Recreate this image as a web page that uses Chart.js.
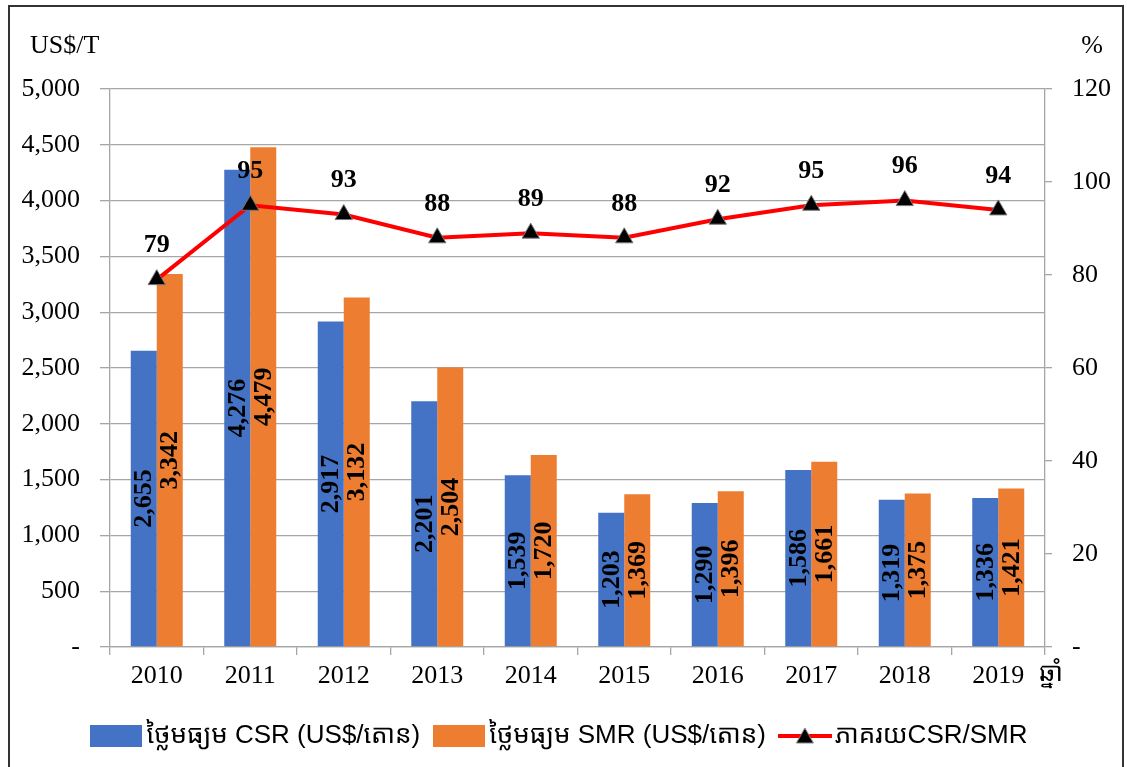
<!DOCTYPE html>
<html>
<head>
<meta charset="utf-8">
<script src="https://cdn.jsdelivr.net/npm/chart.js@4"></script>
<style>
  html, body { margin: 0; padding: 0; background: #fff; overflow: hidden; }
  #wrap { position: relative; width: 1127px; height: 767px; }
  #frame { position: absolute; left: 8px; top: 5px; width: 1112px; height: 900px;
           border: 2px solid #333; border-bottom: none; pointer-events: none; }
</style>
</head>
<body>
<div id="wrap">
  <canvas id="priceChart" width="1127" height="767"></canvas>
  <div id="frame"></div>
</div>
<script>
const years = ['2010', '2011', '2012', '2013', '2014', '2015', '2016', '2017', '2018', '2019'];
const csrPrice = [2655, 4276, 2917, 2201, 1539, 1203, 1290, 1586, 1319, 1336];
const smrPrice = [3342, 4479, 3132, 2504, 1720, 1369, 1396, 1661, 1375, 1421];
const ratio = [79, 95, 93, 88, 89, 88, 92, 95, 96, 94];
const seriesNames = ['ថ្លៃមធ្យម CSR (US$/តោន)', 'ថ្លៃមធ្យម SMR (US$/តោន)', 'ភាគរយCSR/SMR'];

const serif = "'Liberation Serif', 'Times New Roman', serif";
const khmerSans = "'Liberation Sans', Arial, 'Khmer OS System', 'Noto Sans Khmer', sans-serif";
const gridGray = '#a6a6a6';
const legendPad = 22;

// legend swatches as small canvases
function swatch(color) {
    const c = document.createElement('canvas');
    c.width = 52; c.height = 22;
    const g = c.getContext('2d');
    g.fillStyle = color;
    g.fillRect(0, 0, 52, 22);
    return c;
}
function lineSwatch() {
    const c = document.createElement('canvas');
    c.width = 54; c.height = 22;
    const g = c.getContext('2d');
    g.strokeStyle = '#ff0000';
    g.lineWidth = 4;
    g.beginPath(); g.moveTo(0, 11); g.lineTo(54, 11); g.stroke();
    g.fillStyle = '#000';
    g.strokeStyle = '#888';
    g.lineWidth = 1;
    g.beginPath(); g.moveTo(27, 3); g.lineTo(35.5, 18); g.lineTo(18.5, 18); g.closePath();
    g.fill(); g.stroke();
    return c;
}

function fmt(v) {
    return v.toLocaleString('en-US');
}

const labelPlugin = {
    id: 'labelPlugin',
    afterDatasetsDraw(chart) {
        const ctx = chart.ctx;
        ctx.save();
        ctx.fillStyle = '#000';
        ctx.font = 'bold 26px ' + serif;
        ctx.textAlign = 'center';
        ctx.textBaseline = 'middle';
        [0, 1].forEach(di => {
            const meta = chart.getDatasetMeta(di);
            meta.data.forEach((bar, i) => {
                const cy = (bar.y + bar.base) / 2;
                ctx.save();
                ctx.translate(bar.x, cy);
                ctx.rotate(-Math.PI / 2);
                ctx.fillText(fmt(chart.data.datasets[di].data[i]), 0, 1);
                ctx.restore();
            });
        });
        const lineMeta = chart.getDatasetMeta(2);
        ctx.font = 'bold 26px ' + serif;
        lineMeta.data.forEach((pt, i) => {
            ctx.fillText(String(chart.data.datasets[2].data[i]), pt.x, pt.y - 34);
        });
        ctx.restore();
    },
    afterDraw(chart) {
        const ctx = chart.ctx;
        const area = chart.chartArea;
        ctx.save();
        ctx.fillStyle = '#000';
        ctx.textBaseline = 'middle';
        ctx.font = '26px ' + serif;
        ctx.textAlign = 'left';
        ctx.fillText('US$/T', 30, 46);
        ctx.textAlign = 'center';
        ctx.fillText('%', 1092, 46);
        ctx.font = '26px ' + khmerSans;
        ctx.fillText('ឆ្នាំ', area.right + 6, 674);
        ctx.restore();
    }
};

const ctx = document.getElementById('priceChart').getContext('2d');
const priceChart = new Chart(ctx, {
    type: 'bar',
    data: {
        labels: years,
        datasets: [{
            label: seriesNames[0],
            data: csrPrice,
            backgroundColor: '#4472c4',
            categoryPercentage: 0.556,
            barPercentage: 1,
            yAxisID: 'y',
            order: 1
        }, {
            label: seriesNames[1],
            data: smrPrice,
            backgroundColor: '#ed7d31',
            categoryPercentage: 0.556,
            barPercentage: 1,
            yAxisID: 'y',
            order: 1
        }, {
            type: 'line',
            label: seriesNames[2],
            data: ratio,
            borderColor: '#ff0000',
            borderWidth: 4,
            pointStyle: 'triangle',
            pointRadius: 10,
            pointBackgroundColor: '#000',
            pointBorderColor: '#777',
            pointBorderWidth: 1,
            tension: 0,
            yAxisID: 'y1',
            order: 0
        }]
    },
    options: {
        responsive: false,
        animation: false,
        layout: { padding: { top: 89, left: 0, right: 0, bottom: 8 } },
        plugins: {
            tooltip: { enabled: false },
            legend: {
                position: 'bottom',
                labels: {
                    usePointStyle: true,
                    pointStyleWidth: 34,
                    padding: legendPad,
                    color: '#000',
                    font: { family: khmerSans, size: 26 },
                    generateLabels(chart) {
                        const styles = [swatch('#4472c4'), swatch('#ed7d31'), lineSwatch()];
                        return chart.data.datasets.map((ds, i) => ({
                            text: ds.label,
                            pointStyle: styles[i],
                            fillStyle: 'transparent',
                            strokeStyle: 'transparent',
                            lineWidth: 0,
                            fontColor: '#000',
                            datasetIndex: i
                        }));
                    }
                }
            }
        },
        scales: {
            x: {
                grid: { drawOnChartArea: false, color: gridGray, lineWidth: 1.3, tickLength: 8 },
                border: { color: gridGray, width: 1.3 },
                ticks: { color: '#000', font: { family: serif, size: 26 }, padding: 6, maxRotation: 0 },
                afterFit(scale) { scale.height = 76 - legendPad; }
            },
            y: {
                position: 'left',
                min: 0,
                max: 5000,
                ticks: {
                    stepSize: 500,
                    color: '#000',
                    font: { family: serif, size: 26 },
                    padding: 20,
                    callback: v => v === 0 ? '-' : fmt(v)
                },
                grid: { color: gridGray, lineWidth: 1.3, tickLength: 10 },
                border: { color: gridGray, width: 1.3 },
                afterFit(scale) { scale.width = 110; }
            },
            y1: {
                position: 'right',
                min: 0,
                max: 120,
                ticks: {
                    stepSize: 20,
                    color: '#000',
                    font: { family: serif, size: 26 },
                    padding: 20,
                    callback: v => v === 0 ? '-' : String(v)
                },
                grid: { drawOnChartArea: false, color: gridGray, lineWidth: 1.3, tickLength: 7 },
                border: { color: gridGray, width: 1.3 },
                afterFit(scale) { scale.width = 82; }
            }
        }
    },
    plugins: [labelPlugin]
});
</script>
</body>
</html>
